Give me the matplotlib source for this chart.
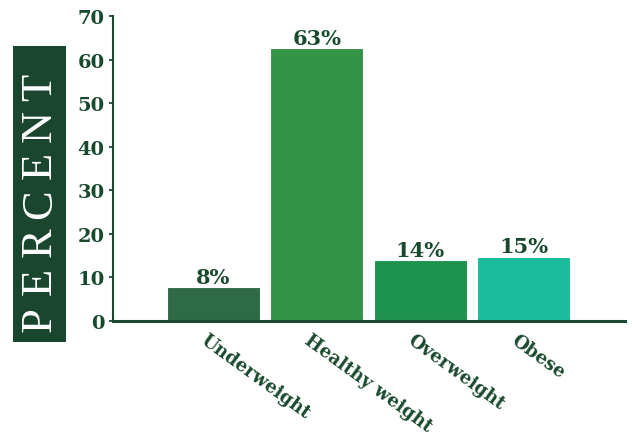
import matplotlib
matplotlib.use('Agg')
import matplotlib.pyplot as plt
import matplotlib.transforms as mtransforms
from matplotlib.patches import Rectangle

# datos
categories = ['Underweight', 'Healthy weight', 'Overweight', 'Obese']
values = [7.7, 62.6, 13.9, 14.8]
labels = ['8%', '63%', '14%', '15%']
colors = ['#2e6a45', '#339347', '#1d914e', '#1abb9b']
yticks = [0, 10, 20, 30, 40, 50, 60, 70]

dark = '#1a4a2e'
plt.rcParams['font.family'] = 'DejaVu Serif'

fig = plt.figure(figsize=(6.32, 4.39), dpi=100)
ax = fig.add_axes([0.1788, 0.2665, 0.810, 0.6948])

x = list(range(len(categories)))
bars = ax.bar(x, values, width=0.9, color=colors, edgecolor='white', linewidth=0.8, zorder=2)

for b, lab in zip(bars, labels):
    ax.text(b.get_x() + b.get_width() / 2, b.get_height() + 0.1, lab,
            ha='center', va='bottom', fontsize=15, fontweight='heavy', color=dark)

ax.set_xlim(-0.97, 3.98)
ax.set_ylim(0, 70)
ax.set_yticks(yticks)
ax.set_yticklabels([str(t) for t in yticks], fontsize=14, fontweight='heavy', color=dark)
ax.tick_params(axis='y', direction='out', length=3, width=1.3, color=dark, pad=3)

ax.set_xticks(x)
ax.set_xticklabels(categories, rotation=-36, ha='left', va='top', rotation_mode='anchor',
                   fontsize=13, fontweight='heavy', color=dark)
ax.tick_params(axis='x', length=0, pad=7)
offset = mtransforms.ScaledTranslation(-5 / 100, 0, fig.dpi_scale_trans)
for lab in ax.get_xticklabels():
    lab.set_transform(lab.get_transform() + offset)

for s in ['top', 'right']:
    ax.spines[s].set_visible(False)
ax.spines['left'].set_color(dark)
ax.spines['left'].set_linewidth(1.5)
ax.spines['bottom'].set_color(dark)
ax.spines['bottom'].set_linewidth(2.2)

# caja "PERCENT"
fig.patches.append(Rectangle((13 / 632, 96 / 439), 53 / 632, 296 / 439,
                             transform=fig.transFigure, facecolor='#1a4630', edgecolor='none'))
word = 'PERCENT'
for i, ch in enumerate(word):
    ypix = 320 - i * 38.7
    fig.text(40 / 632, 1 - ypix / 439, ch, rotation=90, ha='center', va='center',
             fontsize=32, color='white', family='Liberation Serif')

fig.savefig('out.png', dpi=100)
